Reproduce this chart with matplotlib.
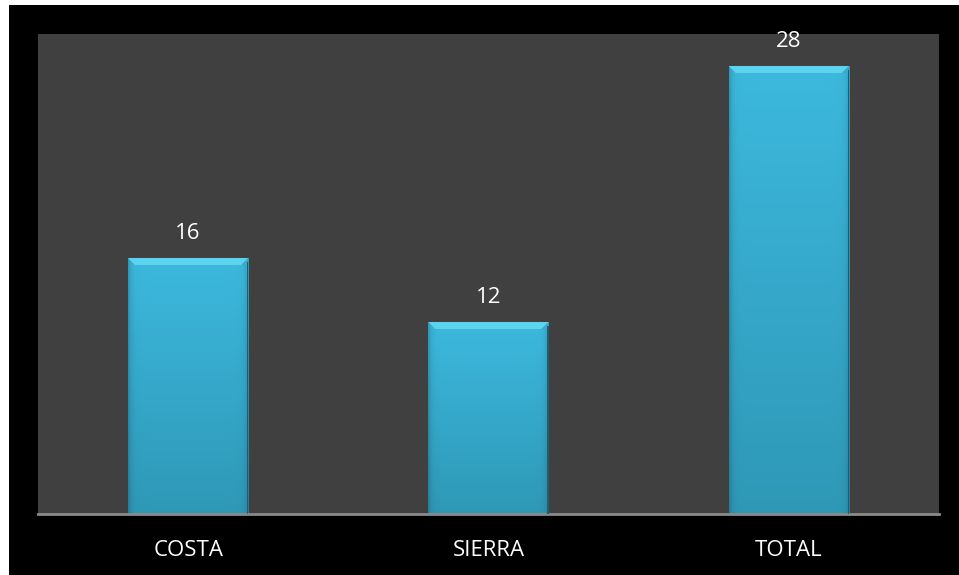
import numpy as np
import matplotlib
matplotlib.use("Agg")
import matplotlib.pyplot as plt
from matplotlib.patches import Rectangle, Polygon

categories = ["COSTA", "SIERRA", "TOTAL"]
values = [16, 12, 28]

W, H = 959, 575
fig = plt.figure(figsize=(W / 100, H / 100), dpi=100, facecolor="white")

# black chart frame
fig.patches.append(Rectangle((9 / W, 0), 1 - 9 / W, 1 - 5 / H,
                             transform=fig.transFigure, facecolor="black",
                             edgecolor="none", zorder=-10))

ax = fig.add_axes([38 / W, 1 - 514 / H, (939 - 38) / W, (514 - 34) / H])
ax.set_facecolor("#404040")
ax.set_xlim(-0.5, 2.5)
ax.set_ylim(0, 30)
for s in ["top", "right", "left"]:
    ax.spines[s].set_visible(False)
ax.spines["bottom"].set_color("#8a8a8a")
ax.spines["bottom"].set_linewidth(2)
ax.set_yticks([])
ax.set_xticks(range(len(categories)))
ax.set_xticklabels(categories, color="white", fontsize=16, family="Open Sans")
ax.tick_params(axis="x", length=0, pad=19)

x = np.arange(len(categories))
bars = ax.bar(x, values, width=0.4, color="#38b4d8", edgecolor="none", zorder=2)

# bar fill: vertical light-to-dark gradient with soft darker side edges
top_c = np.array([0x3c, 0xb9, 0xdd]) / 255
bot_c = np.array([0x2f, 0x98, 0xb7]) / 255
ny, nx = 200, 120
vy = np.linspace(0, 1, ny)[:, None, None]          # 0 = top, 1 = bottom
col = top_c * (1 - vy) + bot_c * vy
hx = np.linspace(0, 1, nx)
edge = np.minimum(hx, 1 - hx) * nx                  # distance from edge in px
dark = 1 - 0.18 * np.exp(-edge / 3.0)
fill = col * dark[None, :, None]

px_x = 3.0 / 901
px_y = 30.0 / 480
bev_x = 7 * px_x
bev_y = 7 * px_y

for b in bars:
    x0, w, h = b.get_x(), b.get_width(), b.get_height()
    im = ax.imshow(fill, extent=(x0, x0 + w, 0, h), aspect="auto",
                   interpolation="bilinear", zorder=2.5)
    im.set_clip_path(b)
    # top bevel
    ax.add_patch(Polygon([(x0, h), (x0 + w, h), (x0 + w - bev_x, h - bev_y),
                          (x0 + bev_x, h - bev_y)], closed=True,
                         facecolor="#5ed3ef", edgecolor="none", zorder=3))
    # shaded corner facets of the top bevel
    ax.add_patch(Polygon([(x0 + w, h), (x0 + w - bev_x, h - bev_y),
                          (x0 + w - bev_x * 0.2, h - bev_y * 1.1), (x0 + w, h - bev_y * 0.4)],
                         closed=True, facecolor="#3aa9cb", edgecolor="none", zorder=3))
    # dark outline on the right side
    ax.add_patch(Rectangle((x0 + w - 1.2 * px_x, 0), 1.2 * px_x, h - bev_y * 0.5,
                           facecolor="#1d5f75", edgecolor="none", zorder=3))
    ax.text(x0 + w / 2, h + 1.2, f"{int(h)}", ha="center", va="baseline",
            color="white", fontsize=16, family="Open Sans", zorder=4)

ax.set_xlim(-0.5, 2.5)
ax.set_ylim(0, 30)

fig.savefig("out.png", dpi=100, facecolor=fig.get_facecolor())
